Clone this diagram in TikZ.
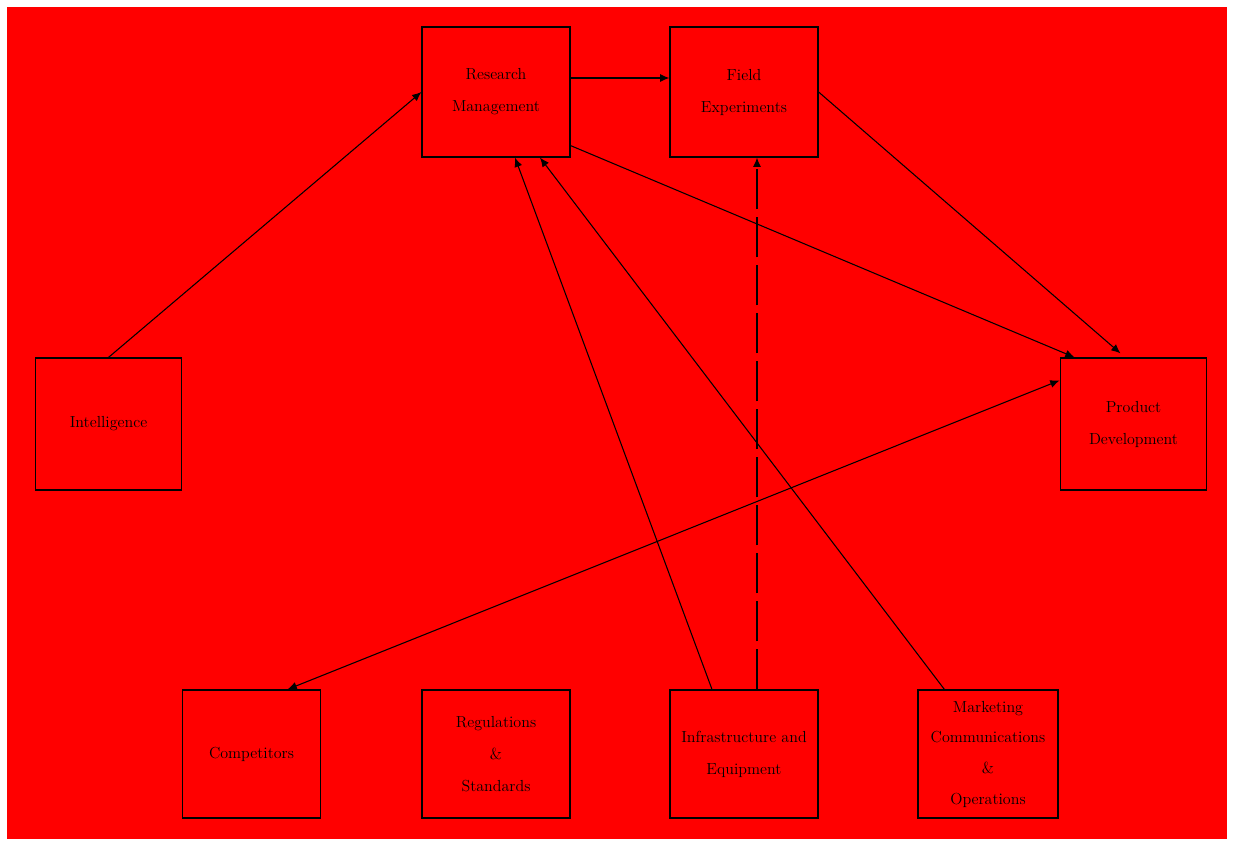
\documentclass[tikz,border=0pt]{standalone}
\usetikzlibrary{arrows.meta,calc}
\begin{document}
\begin{tikzpicture}[x=0.75pt,y=-0.75pt,
  box/.style={draw=black,line width=0.9pt,align=center,inner sep=0pt,
    font=\fontsize{12}{24}\selectfont,text=black},
  bigbox/.style={box,minimum width=111pt,minimum height=97.5pt},
  conn/.style={draw=black,line width=0.8pt},
  tip/.style={-{Latex[length=7pt,width=6pt]}},
  bitip/.style={{Latex[length=7pt,width=6pt]}-{Latex[length=7pt,width=6pt]}}]
\useasboundingbox (0,0) rectangle (1234,846);
\fill[red] (7,7) rectangle (1227,839);

\node[bigbox] (n1) at (496,92) {Research\\Management};
\node[bigbox] (n2) at (744,92) {Field\\Experiments};
\node[box,minimum width=110pt,minimum height=99pt] (lft) at (108.5,424) {Intelligence};
\node[box,minimum width=110pt,minimum height=99pt] (rgt) at (1133.5,424) {Product\\Development};
\node[box,minimum width=104pt,minimum height=96pt] (b1) at (251.5,754) {Competitors};
\node[box,minimum width=111pt,minimum height=96pt] (b2) at (496,754) {Regulations\\\&\\Standards};
\node[box,minimum width=111pt,minimum height=96pt] (b3) at (744,754) {Infrastructure and\\Equipment};
\node[box,minimum width=105pt,minimum height=96pt,font=\fontsize{12}{23}\selectfont] (b4) at (988,754) {Marketing\\Communications\\\&\\Operations};

\draw[conn,tip] ($(n1.east)+(0,-14)$) -- ($(n2.west)+(0,-14)$);
\draw[conn,tip] (lft.north) -- (n1.west);
\draw[conn,tip] ($(b3.north)+(-32,0)$) -- ($(n1.south)+(19,0)$);
\draw[conn,tip] ($(b4.north west)+(27,0)$) -- ($(n1.south)+(44,0)$);
\draw[conn,tip] ($(n1.south east)+(0,-12)$) -- ($(rgt.north west)+(15,0)$);
\draw[conn,tip] (n2.east) -- ($(rgt.north)+(-13,-4)$);
\draw[conn,bitip] ($(b1.north)+(36,0)$) -- ($(rgt.north west)+(0,23)$);
\draw[conn,tip,dashed,dash pattern=on 30pt off 6pt] ($(b3.north)+(13,0)$) -- ($(n2.south)+(13,0)$);
\end{tikzpicture}
\end{document}
